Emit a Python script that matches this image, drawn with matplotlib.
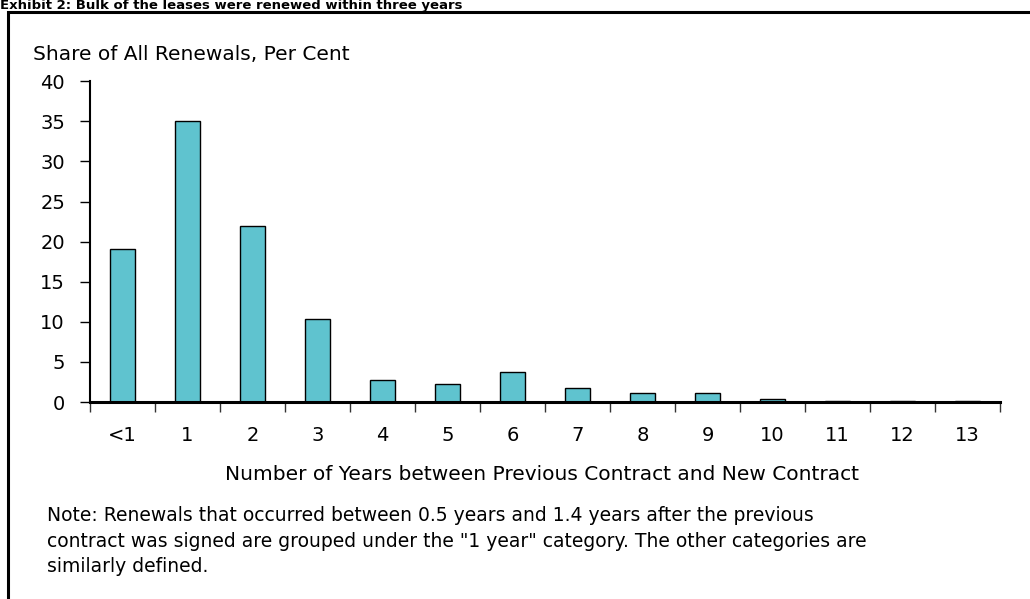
import matplotlib.pyplot as plt
from matplotlib.patches import Rectangle

categories = ['<1', '1', '2', '3', '4', '5', '6', '7', '8', '9', '10', '11', '12', '13']
share = [19.1, 35.0, 21.9, 10.3, 2.8, 2.3, 3.7, 1.8, 1.1, 1.1, 0.4, 0.1, 0.1, 0.1]

plt.rcParams['font.family'] = ['DejaVu Sans']

fig = plt.figure(figsize=(10.30, 5.99), dpi=100)
ax = fig.add_axes([90 / 1030, 1 - 402 / 599, 910 / 1030, (402 - 81.3) / 599])

pos = list(range(len(categories)))
ax.bar(pos, share, width=0.39, color='#5FC3CF', edgecolor='black', linewidth=1, zorder=2)

ax.set_xlim(-0.5, len(categories) - 0.5)
ax.set_ylim(0, 40)
ax.set_yticks(range(0, 41, 5))

# category labels sit between tick marks
ax.set_xticks([p - 0.5 for p in pos] + [len(categories) - 0.5])
ax.set_xticklabels([])
ax.set_xticks(pos, minor=True)
ax.set_xticklabels(categories, minor=True)
ax.tick_params(axis='x', which='major', direction='out', length=7, width=1, color='#333333')
ax.tick_params(axis='x', which='minor', length=0, pad=17, labelsize=14)
ax.tick_params(axis='y', direction='out', length=7, width=1, labelsize=14, pad=11)

for s in ['top', 'right']:
    ax.spines[s].set_visible(False)
ax.spines['bottom'].set_linewidth(2.2)
ax.spines['left'].set_linewidth(1.5)

fig.text(33 / 1030, 1 - 55 / 599, 'Share of All Renewals, Per Cent', fontsize=14.5, va='center', ha='left')
fig.text(542 / 1030, 1 - 475 / 599, 'Number of Years between Previous Contract and New Contract',
         fontsize=14.5, va='center', ha='center')
fig.text(47 / 1030, 1 - 506 / 599,
         'Note: Renewals that occurred between 0.5 years and 1.4 years after the previous\n'
         'contract was signed are grouped under the "1 year" category. The other categories are\n'
         'similarly defined.',
         fontsize=13.5, va='top', ha='left', linespacing=1.45)

# exhibit title squeezed above the frame
fig.text(0, 1 - 9.5 / 599, 'Exhibit 2: Bulk of the leases were renewed within three years',
         fontsize=9.5, fontweight='bold', va='baseline', ha='left')

fig.patches.append(Rectangle((8 / 1030, -0.1), 1.1, 1.1 - 12 / 599, transform=fig.transFigure,
                             fill=False, edgecolor='black', linewidth=2.2))

fig.savefig('out.png', dpi=100)
